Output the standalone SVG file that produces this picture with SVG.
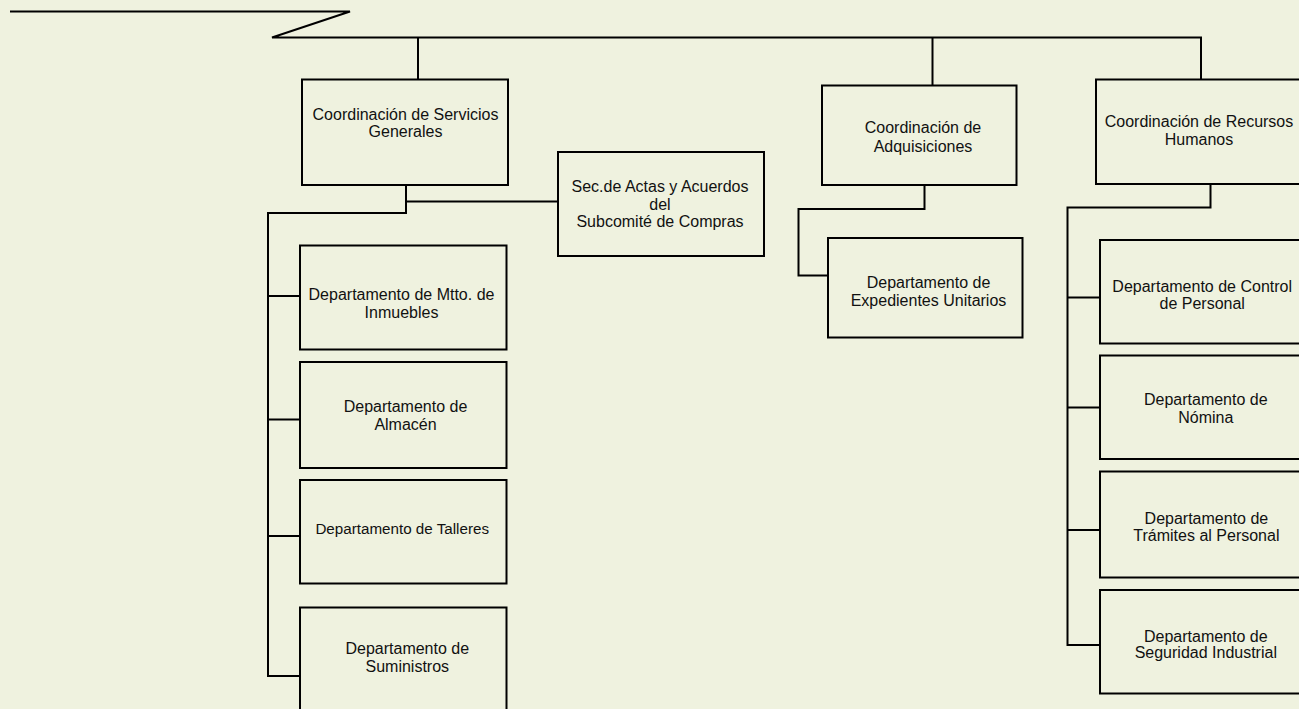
<svg xmlns="http://www.w3.org/2000/svg" width="1299" height="709" viewBox="0 0 1299 709">
  <style>
    .bg { fill: #eff2df; }
    .box { fill: #eff2df; stroke: #000; stroke-width: 2; }
    .ln { fill: none; stroke: #000; stroke-width: 2; }
    text { font-family: "Liberation Sans", Arial, sans-serif; font-size: 16px; fill: #111; text-anchor: middle; }
  </style>
  <rect class="bg" x="0" y="0" width="1299" height="709"/>

  <!-- connectors -->
  <g id="connectors">
    <polyline class="ln" points="10,11.5 350,11.5 272,37.5 1201,37.5 1201,79.5"/>
    <line class="ln" x1="418" y1="37.5" x2="418" y2="79.5"/>
    <line class="ln" x1="932.5" y1="37.5" x2="932.5" y2="85.5"/>
    <!-- Servicios Generales branch -->
    <polyline class="ln" points="406,185 406,213 268,213 268,676 300,676"/>
    <line class="ln" x1="406" y1="201.5" x2="558" y2="201.5"/>
    <line class="ln" x1="268" y1="296" x2="300" y2="296"/>
    <line class="ln" x1="268" y1="419.5" x2="300" y2="419.5"/>
    <line class="ln" x1="268" y1="536" x2="300" y2="536"/>
    <!-- Adquisiciones branch -->
    <polyline class="ln" points="924.5,185 924.5,209 798.5,209 798.5,275.5 828,275.5"/>
    <!-- Recursos Humanos branch -->
    <polyline class="ln" points="1210.5,184 1210.5,207.5 1067.5,207.5 1067.5,645 1100,645"/>
    <line class="ln" x1="1067.5" y1="297.5" x2="1100" y2="297.5"/>
    <line class="ln" x1="1067.5" y1="407.5" x2="1100" y2="407.5"/>
    <line class="ln" x1="1067.5" y1="530" x2="1100" y2="530"/>
  </g>

  <g id="coord-servicios">
    <rect class="box" x="302" y="79.5" width="206" height="105.5"/>
    <text x="405.5" y="120">Coordinación de Servicios</text>
    <text x="405.5" y="137.3">Generales</text>
  </g>

  <g id="sec-actas">
    <rect class="box" x="558" y="152" width="206" height="104"/>
    <text x="660" y="191.7">Sec.de Actas y Acuerdos</text>
    <text x="660" y="209.5">del</text>
    <text x="660" y="227.3">Subcomité de Compras</text>
  </g>

  <g id="coord-adquisiciones">
    <rect class="box" x="822" y="85.5" width="194.5" height="99.5"/>
    <text x="923" y="133.3">Coordinación de</text>
    <text x="923" y="151.7">Adquisiciones</text>
  </g>

  <g id="coord-rh">
    <rect class="box" x="1096" y="79.5" width="210" height="104.5"/>
    <text x="1199" y="127.3">Coordinación de Recursos</text>
    <text x="1199" y="145.3">Humanos</text>
  </g>

  <g id="dep-mtto">
    <rect class="box" x="300" y="245.5" width="206.5" height="104"/>
    <text x="401.5" y="300">Departamento de Mtto. de</text>
    <text x="401.5" y="317.7">Inmuebles</text>
  </g>

  <g id="dep-almacen">
    <rect class="box" x="300" y="362" width="206.5" height="106"/>
    <text x="405.5" y="411.7">Departamento de</text>
    <text x="405.5" y="430">Almacén</text>
  </g>

  <g id="dep-talleres">
    <rect class="box" x="300" y="480" width="206.5" height="103.5"/>
    <text x="402.2" y="534" style="font-size:15.2px">Departamento de Talleres</text>
  </g>

  <g id="dep-suministros">
    <rect class="box" x="300" y="607.5" width="206.5" height="120"/>
    <text x="407.3" y="654">Departamento de</text>
    <text x="407.3" y="671.7">Suministros</text>
  </g>

  <g id="dep-expedientes">
    <rect class="box" x="828" y="238" width="194.5" height="99.5"/>
    <text x="928.5" y="288.3">Departamento de</text>
    <text x="928.5" y="306">Expedientes Unitarios</text>
  </g>

  <g id="dep-control">
    <rect class="box" x="1100" y="240" width="210" height="103.5"/>
    <text x="1202.2" y="291.7">Departamento de Control</text>
    <text x="1202.2" y="309.3">de Personal</text>
  </g>

  <g id="dep-nomina">
    <rect class="box" x="1100" y="355.5" width="210" height="103.5"/>
    <text x="1205.8" y="405">Departamento de</text>
    <text x="1205.8" y="423.3">Nómina</text>
  </g>

  <g id="dep-tramites">
    <rect class="box" x="1100" y="471.5" width="210" height="106"/>
    <text x="1206.4" y="524.3">Departamento de</text>
    <text x="1206.4" y="541">Trámites al Personal</text>
  </g>

  <g id="dep-seguridad">
    <rect class="box" x="1100" y="590" width="210" height="103.5"/>
    <text x="1205.8" y="641.7">Departamento de</text>
    <text x="1205.8" y="657.7">Seguridad Industrial</text>
  </g>
</svg>
